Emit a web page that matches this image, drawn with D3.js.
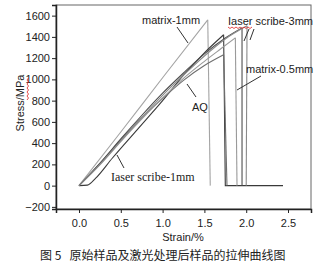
<!DOCTYPE html>
<html>
<head>
<meta charset="utf-8">
<script src="https://cdn.jsdelivr.net/npm/d3@7.9.0/dist/d3.min.js"></script>
<style>
  body { margin: 0; background: #fff; }
  svg { display: block; }
  text { fill: #222; }
</style>
</head>
<body>
<svg id="chart" width="323" height="269"></svg>
<script>
// --- data ---
const seriesNames = ['matrix-1mm', 'Iaser scribe-1mm', 'AQ', 'matrix-0.5mm', 'Iaser scribe-3mm (a)', 'Iaser scribe-3mm (b)'];
const strainM1 = [0, 0.5, 1.0, 1.54];
const stressM1 = [0, 505, 1015, 1560];
const strainS1 = [0, 0.1, 0.2, 0.4, 0.7, 1.0, 1.25, 1.5, 1.73];
const stressS1 = [0, 5, 70, 260, 530, 800, 1040, 1250, 1420];
const strainAQ = [0, 0.25, 0.5, 0.75, 1.0, 1.25, 1.5, 1.73];
const stressAQ = [0, 210, 430, 640, 820, 990, 1130, 1231];
const strainM05 = [0, 0.25, 0.5, 0.75, 1.0, 1.25, 1.5, 1.7, 1.87];
const stressM05 = [0, 195, 415, 625, 825, 1010, 1170, 1290, 1391];
const strainS3a = [0, 0.25, 0.5, 0.75, 1.0, 1.25, 1.5, 1.75, 1.95];
const stressS3a = [0, 210, 440, 660, 870, 1060, 1240, 1390, 1485];
const strainS3b = [0, 0.25, 0.5, 0.75, 1.0, 1.25, 1.5, 1.75, 2.01];
const stressS3b = [0, 200, 420, 640, 850, 1040, 1220, 1380, 1504];
const fractureStrain = [1.57, 1.75, 1.77, 1.89, 1.95, 2.0];
const tailEndStrain = [null, 2.44, null, null, null, null];
const lineColors = ['#a4a4a4', '#3a3a3a', '#6e6e6e', '#9a9a9a', '#4e4e4e', '#8a8a8a'];

const xTicks = [0, 0.5, 1.0, 1.5, 2.0, 2.5];
const yTicks = [-200, 0, 200, 400, 600, 800, 1000, 1200, 1400, 1600];

const strains = [strainM1, strainS1, strainAQ, strainM05, strainS3a, strainS3b];
const stresses = [stressM1, stressS1, stressAQ, stressM05, stressS3a, stressS3b];

const sans = '"Liberation Sans", Arial, sans-serif';

// --- scales ---
const svg = d3.select('#chart');
const x = d3.scaleLinear().domain([-0.275, 2.775]).range([56, 311]);
const y = d3.scaleLinear().domain([-220, 1700]).range([209, 5]);

// plot frame
svg.append('rect')
  .attr('x', 56).attr('y', 5).attr('width', 255).attr('height', 204)
  .attr('fill', '#fff').attr('stroke', '#666').attr('stroke-width', 1);

// curves
const loadLine = d3.line().x(d => x(d[0])).y(d => y(d[1])).curve(d3.curveMonotoneX);
const dropLine = d3.line().x(d => x(d[0])).y(d => y(d[1]));

seriesNames.forEach((name, i) => {
  const pts = strains[i].map((s, j) => [s, stresses[i][j]]);
  const g = svg.append('g').attr('fill', 'none').attr('stroke', lineColors[i]).attr('stroke-width', 1.1);
  g.append('path').attr('d', loadLine(pts));
  const peak = pts[pts.length - 1];
  const drop = [peak, [fractureStrain[i], 0]];
  if (tailEndStrain[i] !== null) drop.push([tailEndStrain[i], 0]);
  g.append('path').attr('d', dropLine(drop));
});

// axes
const yAxis = svg.append('g').attr('transform', 'translate(56,0)')
  .call(d3.axisLeft(y).tickValues(yTicks).tickSize(4).tickPadding(2).tickFormat(d3.format('d')));
const xAxis = svg.append('g').attr('transform', 'translate(0,209)')
  .call(d3.axisBottom(x).tickValues(xTicks).tickSize(4).tickPadding(6).tickFormat(d3.format('.1f')));
[xAxis, yAxis].forEach(a => {
  a.select('.domain').attr('stroke', '#222').attr('stroke-width', 1.5);
  a.selectAll('.tick line').attr('stroke', '#222');
  a.selectAll('.tick text').attr('font-size', 11).style('font-family', sans).attr('fill', '#222');
});

// axis titles
svg.append('text').attr('x', 183).attr('y', 241).attr('text-anchor', 'middle')
  .attr('font-size', 11).style('font-family', sans).text('Strain/%');
svg.append('text').attr('transform', 'translate(24,103) rotate(-90)').attr('text-anchor', 'middle')
  .attr('font-size', 11).style('font-family', sans).text('Stress/MPa');

// annotations
const labels = [
  { t: 'matrix-1mm', x: 142, y: 24, line: [177, 27, 188, 43], serif: false },
  { t: 'Iaser scribe-3mm', x: 228, y: 25, line: [249, 29, 244, 41], serif: false },
  { t: 'matrix-0.5mm', x: 246, y: 73, line: [261, 76, 237, 90], serif: false },
  { t: 'AQ', x: 192, y: 111, line: [187, 84, 196, 97], serif: false },
  { t: 'Iaser scribe-1mm', x: 111, y: 181, line: [117, 155, 124, 168], serif: true }
];
labels.forEach(l => {
  svg.append('text').attr('x', l.x).attr('y', l.y).attr('font-size', l.serif ? 12 : 11)
    .style('font-family', l.serif ? '"Liberation Serif", "DejaVu Serif", serif' : sans)
    .text(l.t);
  svg.append('line').attr('x1', l.line[0]).attr('y1', l.line[1]).attr('x2', l.line[2]).attr('y2', l.line[3])
    .attr('stroke', '#333').attr('stroke-width', 1);
});
svg.append('line').attr('x1', 254).attr('y1', 29).attr('x2', 250).attr('y2', 40)
  .attr('stroke', '#333').attr('stroke-width', 1);

// spell-check squiggles
function squiggle(x0, y0, len, vertical) {
  const pts = d3.range(0, len + 1, 2).map((v, k) => vertical ? [x0 + (k % 2 ? 1.5 : 0), y0 - v] : [x0 + v, y0 + (k % 2 ? 1.5 : 0)]);
  svg.append('path').attr('d', d3.line()(pts)).attr('fill', 'none').attr('stroke', '#e02020').attr('stroke-width', 0.8);
}
squiggle(228, 27, 25, false);
squiggle(27, 100, 22, true);

// caption
svg.append('text').attr('x', 40).attr('y', 260).attr('font-size', 12)
  .style('font-family', '"Noto Sans CJK SC", sans-serif')
  .attr('xml:space', 'preserve')
  .text('图 5   原始样品及激光处理后样品的拉伸曲线图');
</script>
</body>
</html>
